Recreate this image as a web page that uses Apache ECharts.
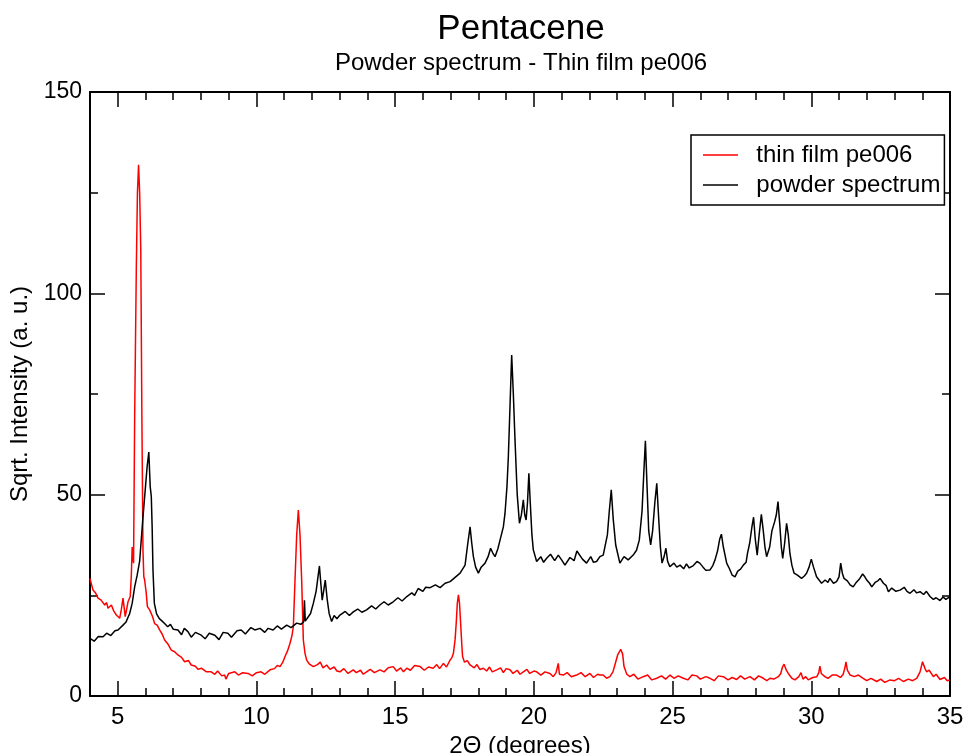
<!DOCTYPE html>
<html>
<head>
<meta charset="utf-8">
<title>Pentacene</title>
<script src="https://cdn.jsdelivr.net/npm/echarts@6/dist/echarts.min.js"></script>
<style>
  html, body { margin: 0; padding: 0; background: #fff; }
  #chart { width: 967px; height: 753px; }
</style>
</head>
<body>
<div id="chart"></div>
<script>
  // thin film pe006 (red), [2theta, sqrt intensity]
  var thinFilm = [
    [4.0,29.2],[4.05,27.8],[4.11,26.3],[4.2,25.6],[4.29,24.3],[4.4,23.8],[4.53,22.6],[4.6,23.2],[4.65,21.8],[4.77,22.6],
    [4.85,21.2],[4.95,20.1],[5.07,19.3],[5.13,21.5],[5.19,24.3],[5.23,22],[5.27,19.7],[5.32,21.5],[5.37,23.4],[5.45,24.7],
    [5.49,30],[5.52,37],[5.57,33],[5.61,69.4],[5.67,106.6],[5.71,125],[5.75,131.9],[5.79,125],[5.83,110.7],[5.87,69.4],
    [5.91,36],[5.94,29.6],[5.97,28.8],[6.02,26],[6.07,22.2],[6.15,21.4],[6.25,19.8],[6.33,18],[6.42,17.6],[6.51,16.4],
    [6.6,15.4],[6.69,13.9],[6.8,13.0],[6.93,11.4],[7.05,11.0],[7.17,10.2],[7.3,9.6],[7.41,8.5],[7.55,8.8],[7.65,7.7],
    [7.8,7.4],[7.9,6.6],[8.01,6.9],[8.2,6.0],[8.37,6],[8.5,5.4],[8.6,6.2],[8.75,5.0],[8.85,5.2],[8.9,4.2],
    [9.0,5.6],[9.22,6],[9.35,5.2],[9.5,5.8],[9.7,5.6],[9.85,5.0],[10.0,5.8],[10.17,6],[10.3,5.4],[10.49,6.5],
    [10.65,6.8],[10.75,7.6],[10.85,7.3],[10.95,8.4],[11.03,9.8],[11.12,11.2],[11.21,13.1],[11.28,15],[11.33,17.2],[11.39,28.8],
    [11.45,40],[11.51,46.2],[11.57,40],[11.63,28.8],[11.69,13.9],[11.75,10.6],[11.81,8.9],[11.9,8.0],[12.05,7.3],[12.2,7.8],
    [12.3,8.4],[12.4,7.0],[12.53,7.7],[12.65,6.6],[12.8,7.2],[12.9,6.2],[13.01,6],[13.15,6.8],[13.3,5.6],[13.49,6.5],
    [13.6,5.8],[13.75,6.4],[13.85,5.4],[13.97,6],[14.1,6.6],[14.25,5.8],[14.45,6.5],[14.6,6.0],[14.75,7.0],[14.93,7.3],
    [15.05,6.2],[15.2,7.0],[15.3,6.0],[15.42,6.9],[15.55,6.4],[15.7,7.6],[15.9,7.3],[16.05,6.4],[16.2,7.2],[16.37,6.9],
    [16.5,7.8],[16.6,6.8],[16.74,8.1],[16.85,7.2],[16.98,8.9],[17.05,9.6],[17.1,10.6],[17.16,14],[17.2,18],[17.24,23],
    [17.28,25.1],[17.32,23],[17.36,18],[17.4,13],[17.43,9.8],[17.5,8.4],[17.6,8.8],[17.7,7.7],[17.85,7.0],[17.95,7.8],
    [18.05,6.6],[18.18,6.9],[18.3,6.2],[18.4,7.2],[18.5,6.0],[18.66,6.5],[18.8,7.0],[18.9,5.8],[19.0,6.8],[19.14,6.5],
    [19.25,5.6],[19.4,6.4],[19.5,5.4],[19.62,6],[19.75,6.6],[19.85,5.6],[20.0,6.2],[20.1,6],[20.25,5.2],[20.4,6.0],
    [20.58,5.6],[20.7,4.8],[20.8,5.8],[20.88,8.1],[20.92,5.4],[21.06,5.2],[21.2,5.8],[21.35,4.8],[21.54,5.2],[21.7,5.8],
    [21.85,4.8],[22.02,5.6],[22.15,4.6],[22.3,5.4],[22.38,5.2],[22.5,5.2],[22.62,4.4],[22.74,4.8],[22.85,6.0],[22.92,7.7],
    [23.02,10.2],[23.13,11.6],[23.2,10.4],[23.25,7.3],[23.35,5.4],[23.46,4.8],[23.6,5.4],[23.75,4.2],[23.94,4.8],[24.1,5.2],
    [24.25,4.0],[24.43,4.4],[24.6,5.0],[24.75,4.2],[24.91,5.2],[25.05,4.4],[25.2,5.0],[25.39,4.4],[25.55,4.0],[25.7,5.2],
    [25.87,5],[26.0,4.2],[26.2,4.8],[26.35,4.4],[26.5,3.8],[26.65,5.0],[26.83,4.8],[27.0,4.0],[27.15,4.6],[27.31,4.1],
    [27.45,5.0],[27.6,4.2],[27.79,4.8],[27.95,4.0],[28.1,5.0],[28.27,4.4],[28.4,3.8],[28.51,4.4],[28.65,4.2],[28.81,4.8],
    [28.9,5.6],[28.96,7.2],[29.02,7.9],[29.1,6.4],[29.17,5.6],[29.3,4.4],[29.41,4],[29.55,4.8],[29.63,5.8],[29.7,4.2],
    [29.8,4.8],[29.89,4],[30.05,4.6],[30.2,4.8],[30.27,5.8],[30.31,7.4],[30.36,5.6],[30.49,4.8],[30.6,4.4],[30.75,5.2],
    [30.91,5.2],[31.05,4.6],[31.15,5.4],[31.21,7.0],[31.25,8.5],[31.3,6.4],[31.4,5.2],[31.55,4.8],[31.7,5.2],[31.87,4.4],
    [32.0,3.8],[32.15,4.4],[32.36,3.6],[32.5,4.2],[32.65,3.4],[32.84,4],[33.0,3.8],[33.15,4.4],[33.32,3.6],[33.5,4.2],
    [33.65,3.8],[33.8,4.4],[33.92,6.0],[34.01,8.5],[34.1,6.8],[34.16,6],[34.25,6.4],[34.4,4.8],[34.5,5.4],[34.64,4.1],
    [34.8,4.6],[34.9,3.8],[35.0,4]
  ];

  // powder spectrum (black)
  var powder = [
    [4.0,14.3],[4.15,13.6],[4.3,14.8],[4.47,14.7],[4.6,15.6],[4.75,15.0],[4.9,16.2],[5.01,16.4],[5.19,17.6],[5.3,18.4],
    [5.43,20.5],[5.52,23.0],[5.61,27.1],[5.7,30.0],[5.79,33.5],[5.91,44.5],[6.0,52],[6.06,57],[6.12,60.6],[6.17,52],
    [6.21,49.5],[6.24,42],[6.27,31.3],[6.32,23],[6.4,20.4],[6.5,19.2],[6.6,18.6],[6.69,18],[6.8,17.2],[6.9,17.8],
    [7.0,16.6],[7.17,16.4],[7.3,15.2],[7.4,16.8],[7.53,16],[7.65,14.6],[7.8,15.8],[8.01,15.1],[8.15,14.2],[8.3,15.6],
    [8.5,15.1],[8.65,14.0],[8.8,15.8],[8.97,15.6],[9.1,14.6],[9.3,16.2],[9.45,16.4],[9.6,15.4],[9.8,17.0],[9.94,16.4],
    [10.13,16.8],[10.3,15.8],[10.42,16.8],[10.6,16.4],[10.75,17.4],[10.9,16.6],[11.09,17.6],[11.25,17.0],[11.45,18.1],[11.6,17.8],
    [11.7,18.4],[11.73,23.8],[11.76,18.6],[11.81,18.5],[11.95,20.5],[12.05,23],[12.15,26],[12.27,32.3],[12.32,28],[12.37,23.8],
    [12.42,26],[12.48,28.8],[12.55,24],[12.62,20.5],[12.71,18.5],[12.8,20.0],[12.9,19.2],[13.01,20.1],[13.2,21.0],[13.35,20.0],
    [13.49,20.9],[13.65,21.6],[13.8,20.8],[13.97,21.4],[14.15,22.4],[14.3,21.6],[14.45,22.6],[14.6,23.4],[14.75,22.6],[14.93,23.4],
    [15.1,24.4],[15.25,23.6],[15.42,24.7],[15.6,25.6],[15.7,25.0],[15.83,26.7],[16.0,26.0],[16.1,27.0],[16.26,26.9],[16.45,27.6],
    [16.62,26.9],[16.8,28.0],[16.98,28.4],[17.15,29.4],[17.34,30.5],[17.52,32.5],[17.62,38],[17.7,42],[17.76,38],[17.82,34.6],
    [17.9,32],[18.0,30.5],[18.1,32],[18.24,33],[18.35,34.6],[18.44,36.7],[18.52,35.5],[18.6,34.6],[18.7,36.5],[18.78,38.7],
    [18.9,42],[18.96,45.4],[19.03,52],[19.08,59.4],[19.14,72],[19.2,84.7],[19.26,75],[19.32,63.6],[19.4,50],[19.48,42.9],
    [19.55,45],[19.62,48.7],[19.67,45],[19.72,43.7],[19.77,48],[19.82,55.3],[19.87,48],[19.93,40],[19.98,36.3],[20.1,33.4],
    [20.25,34.6],[20.35,33.2],[20.46,34.2],[20.6,35.2],[20.75,33.6],[20.88,35],[21.0,33.8],[21.12,32.5],[21.3,34.4],[21.45,33.6],
    [21.55,36.0],[21.6,35.8],[21.75,34.0],[21.9,33],[22.05,34.6],[22.15,33.2],[22.26,33.4],[22.38,34.6],[22.5,35.0],[22.56,35.4],
    [22.65,40],[22.72,46],[22.79,51.2],[22.86,44],[22.95,37.5],[23.1,33],[23.25,34.6],[23.4,33.8],[23.58,35],[23.7,36.2],
    [23.8,38.7],[23.9,46],[23.96,55],[24.02,63.4],[24.08,52],[24.14,41],[24.21,37.5],[24.28,41],[24.36,48],[24.43,52.8],
    [24.5,44],[24.56,37],[24.62,33],[24.69,34.5],[24.76,36.7],[24.82,33.5],[24.9,32.1],[25.05,33.0],[25.15,32.0],[25.27,32.5],
    [25.4,31.6],[25.5,32.8],[25.6,31.8],[25.75,32.4],[25.88,33.4],[25.98,33],[26.1,32.0],[26.2,31.2],[26.35,31.3],[26.45,32.4],
    [26.53,33.8],[26.62,36],[26.7,39],[26.76,40.2],[26.83,37],[26.95,33],[27.05,31.6],[27.15,30.0],[27.25,29.6],[27.35,31.0],
    [27.45,31.5],[27.55,32.5],[27.65,33.2],[27.7,35.4],[27.78,38],[27.86,42],[27.92,44.4],[27.98,39],[28.05,35],[28.12,40],
    [28.2,45.1],[28.27,41],[28.33,37],[28.39,34.6],[28.5,37],[28.58,41],[28.68,43.3],[28.74,45],[28.8,48.3],[28.86,43],
    [28.92,37],[28.97,34.2],[29.04,38],[29.11,42.9],[29.17,40],[29.23,35.4],[29.3,32.5],[29.38,30.5],[29.5,30.0],[29.65,29.2],
    [29.75,29.8],[29.83,30.5],[29.92,32],[30.0,34],[30.08,32],[30.19,29.6],[30.28,28.8],[30.37,28],[30.5,28.8],[30.6,28.2],
    [30.67,29.2],[30.8,28.0],[30.91,28.4],[31.0,29.6],[31.06,33],[31.12,30.5],[31.18,29.2],[31.3,28.6],[31.4,27.6],[31.51,27.1],
    [31.62,28.2],[31.75,29.2],[31.85,30.3],[31.93,29.6],[32.0,28.8],[32.1,28.0],[32.18,27.1],[32.3,28.2],[32.4,28.6],[32.48,29.2],
    [32.6,28.0],[32.7,27.4],[32.78,25.9],[32.9,26.8],[33.05,26.0],[33.2,26.3],[33.35,27.0],[33.45,26.0],[33.56,25.5],[33.7,26.4],
    [33.8,25.6],[33.92,25.9],[34.05,25.2],[34.15,26.0],[34.28,24.7],[34.4,24.0],[34.5,24.4],[34.64,23.7],[34.75,24.6],[34.85,24.0],
    [35.0,24.7]
  ];

  var majorX = [5, 10, 15, 20, 25, 30, 35];
  var minorX = [6, 7, 8, 9, 11, 12, 13, 14, 16, 17, 18, 19, 21, 22, 23, 24, 26, 27, 28, 29, 31, 32, 33, 34];

  var font = "'Liberation Sans', Arial, Helvetica, sans-serif";
  var frame = { color: '#000', width: 2 };

  function xAxisOf(position, ticks, len, withLine, withLabel) {
    return {
      type: 'value', min: 4, max: 35, position: position,
      axisLine: { show: withLine, onZero: false, lineStyle: frame },
      axisTick: { show: true, inside: true, length: len, customValues: ticks, lineStyle: { color: '#000', width: 1.5 } },
      axisLabel: withLabel
        ? { show: true, customValues: majorX, color: '#000', fontSize: 24, fontFamily: font, margin: 9 }
        : { show: false },
      splitLine: { show: false }
    };
  }

  var chart = echarts.init(document.getElementById('chart'));
  var option = {
    backgroundColor: '#fff',
    animation: false,
    graphic: [
      { type: 'text', x: 521, y: 29, style: { text: 'Pentacene', textAlign: 'center', textVerticalAlign: 'middle', fill: '#000', font: '35px ' + font } },
      { type: 'text', x: 521, y: 63, style: { text: 'Powder spectrum - Thin film pe006', textAlign: 'center', textVerticalAlign: 'middle', fill: '#000', font: '24px ' + font } }
    ],
    grid: { left: 90, right: 17, top: 92, bottom: 57, containLabel: false, outerBoundsMode: 'none' },
    legend: {
      left: 691, top: 135, orient: 'vertical',
      data: ['thin film pe006', 'powder spectrum'],
      icon: 'rect', itemWidth: 35, itemHeight: 1.5, itemGap: 6,
      formatter: '  {name}',
      padding: [8, 4, 8, 12],
      borderColor: '#000', borderWidth: 1.5, borderRadius: 0,
      backgroundColor: '#fff',
      itemStyle: { borderWidth: 0 },
      textStyle: { color: '#000', fontSize: 24, fontFamily: font, lineHeight: 24 }
    },
    xAxis: [
      Object.assign(xAxisOf('bottom', majorX, 15, true, true), {
        name: '2\u0398 (degrees)', nameLocation: 'middle', nameGap: 34,
        nameTextStyle: { color: '#000', fontSize: 24, fontFamily: font }
      }),
      xAxisOf('bottom', minorX, 8, false, false),
      xAxisOf('top', majorX, 15, true, false),
      xAxisOf('top', minorX, 8, false, false)
    ],
    yAxis: [
      {
        type: 'value', min: 0, max: 150, interval: 50, position: 'left',
        name: 'Sqrt. Intensity (a. u.)', nameLocation: 'middle', nameGap: 58, nameRotate: 90,
        nameTextStyle: { color: '#000', fontSize: 24, fontFamily: font },
        axisLine: { show: true, onZero: false, lineStyle: frame },
        axisTick: { show: true, inside: true, length: 15, lineStyle: { color: '#000', width: 1.5 } },
        minorTick: { show: true, splitNumber: 2, length: 8, lineStyle: { color: '#000', width: 1.5 } },
        axisLabel: { color: '#000', fontSize: 23, fontFamily: font, margin: 8 },
        splitLine: { show: false }, minorSplitLine: { show: false }
      },
      {
        type: 'value', min: 0, max: 150, interval: 50, position: 'right',
        axisLine: { show: true, onZero: false, lineStyle: frame },
        axisTick: { show: true, inside: true, length: 15, lineStyle: { color: '#000', width: 1.5 } },
        minorTick: { show: true, splitNumber: 2, length: 8, lineStyle: { color: '#000', width: 1.5 } },
        axisLabel: { show: false },
        splitLine: { show: false }, minorSplitLine: { show: false }
      }
    ],
    series: [
      {
        name: 'thin film pe006', type: 'line', data: thinFilm,
        xAxisIndex: 0, yAxisIndex: 0,
        symbol: 'none', color: '#ff0000',
        lineStyle: { color: '#ff0000', width: 1.5 }
      },
      {
        name: 'powder spectrum', type: 'line', data: powder,
        xAxisIndex: 0, yAxisIndex: 0,
        symbol: 'none', color: '#000',
        lineStyle: { color: '#000', width: 1.5 }
      }
    ]
  };
  chart.setOption(option);
</script>
</body>
</html>
